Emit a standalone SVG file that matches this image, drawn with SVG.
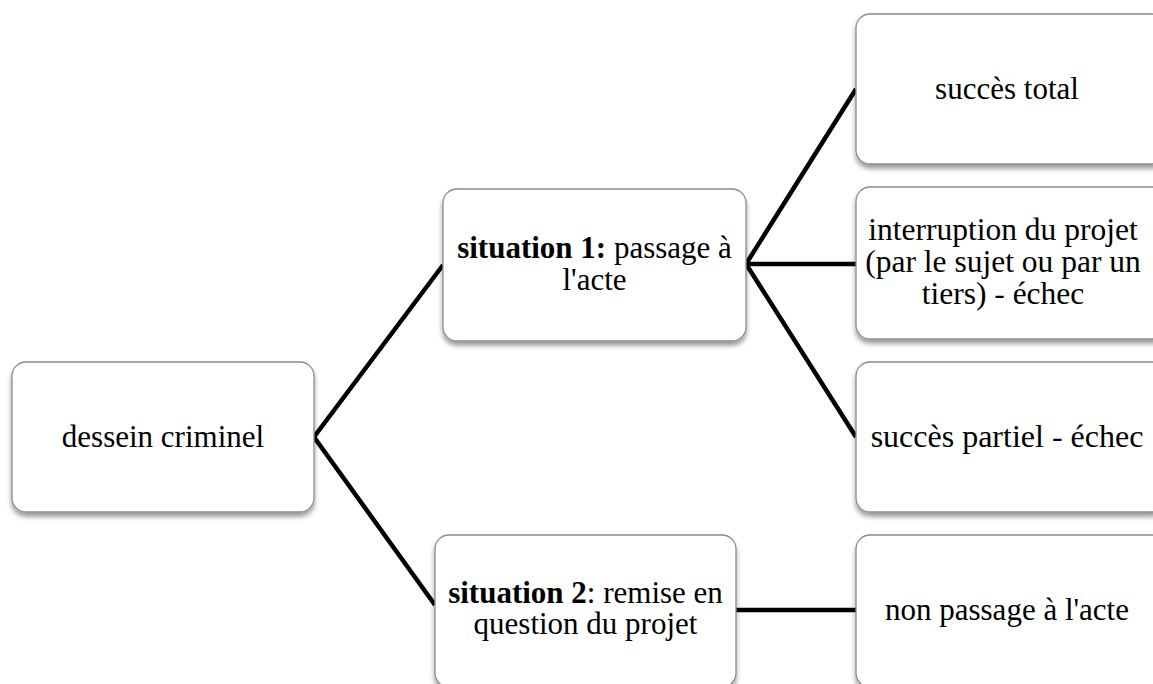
<svg xmlns="http://www.w3.org/2000/svg" width="1153" height="684" viewBox="0 0 1153 684">
<defs>
<filter id="sh" x="-10%" y="-10%" width="120%" height="130%">
<feGaussianBlur in="SourceAlpha" stdDeviation="2.5"/>
<feOffset dx="0" dy="4" result="b"/>
<feComponentTransfer><feFuncA type="linear" slope="0.4"/></feComponentTransfer>
<feMerge><feMergeNode/><feMergeNode in="SourceGraphic"/></feMerge>
</filter>
<style>
.box{fill:#fff;stroke:#8c8c8c;stroke-width:1.3;filter:url(#sh)}
.t{font-family:"Liberation Serif","Times New Roman",serif;font-size:31px;fill:#000;text-anchor:middle}
.b{font-weight:bold}
.c{stroke:#000;stroke-width:4.5;fill:none;stroke-linejoin:miter}
</style>
</defs>
<rect width="1153" height="684" fill="#fff"/>
<g id="connectors">
<polyline class="c" points="443,265 314,437 435,605"/>
<polyline class="c" points="856,89 746,264 856,437"/>
<line class="c" x1="746" y1="264" x2="856" y2="264"/>
<line class="c" x1="736" y1="610" x2="856" y2="610"/>
</g>
<g id="n-dessein">
<rect class="box" x="12" y="362" width="302" height="150" rx="14"/>
<text class="t" x="163" y="447">dessein criminel</text>
</g>
<g id="n-situation1">
<rect class="box" x="443" y="189" width="303" height="152" rx="14"/>
<text class="t" x="594.5" y="258"><tspan class="b">situation 1:</tspan> passage à</text>
<text class="t" x="594.5" y="290">l'acte</text>
</g>
<g id="n-situation2">
<rect class="box" x="435" y="535" width="301" height="152" rx="14"/>
<text class="t" x="585.5" y="603"><tspan class="b">situation 2</tspan>: remise en</text>
<text class="t" x="585.5" y="634">question du projet</text>
</g>
<g id="n-succes-total">
<rect class="box" x="856" y="14" width="310" height="150" rx="14"/>
<text class="t" x="1007" y="99">succès total</text>
</g>
<g id="n-interruption">
<rect class="box" x="856" y="187" width="310" height="152" rx="14"/>
<text class="t" x="1003" y="240" style="font-size:31.5px">interruption du projet</text>
<text class="t" x="1003" y="272" style="font-size:31.5px">(par le sujet ou par un</text>
<text class="t" x="1003" y="304" style="font-size:31.5px">tiers) - échec</text>
</g>
<g id="n-succes-partiel">
<rect class="box" x="856" y="362" width="310" height="150" rx="14"/>
<text class="t" x="1007" y="447" style="font-size:32px">succès partiel - échec</text>
</g>
<g id="n-non-passage">
<rect class="box" x="856" y="535" width="310" height="152" rx="14"/>
<text class="t" x="1007" y="620">non passage à l'acte</text>
</g>
</svg>
